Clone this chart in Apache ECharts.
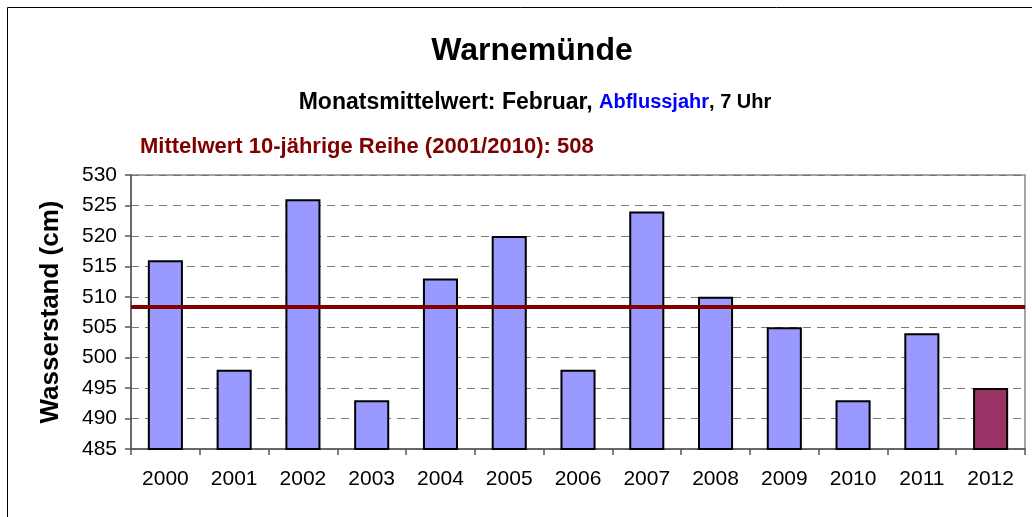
<!DOCTYPE html>
<html>
<head>
<meta charset="utf-8">
<script src="https://cdn.jsdelivr.net/npm/echarts@6/dist/echarts.min.js"></script>
<style>
  html, body { margin: 0; padding: 0; background: #fff; }
  #chart { width: 1032px; height: 517px; }
</style>
</head>
<body>
<div id="chart"></div>
<script>
// data
const years = ['2000', '2001', '2002', '2003', '2004', '2005', '2006', '2007', '2008', '2009', '2010', '2011', '2012'];
const levels = [516, 498, 526, 493, 513, 520, 498, 524, 510, 505, 493, 504, 495];
const meanValue = 508.3;
const currentYear = '2012';

const FONT = '"Liberation Sans", Arial, sans-serif';

const chart = echarts.init(document.getElementById('chart'));

const barData = levels.map(function (v, i) {
  return {
    value: v,
    itemStyle: { color: years[i] === currentYear ? '#993366' : '#9999ff' }
  };
});

const option = {
  animation: false,
  backgroundColor: '#ffffff',
  graphic: [
    {
      type: 'rect',
      shape: { x: 7.5, y: 7.5, width: 1100, height: 600 },
      style: { fill: 'none', stroke: '#000', lineWidth: 1 },
      silent: true
    },
    {
      type: 'rect',
      shape: { x: 131, y: 175, width: 894, height: 274 },
      style: { fill: 'none', stroke: '#888', lineWidth: 1.5 },
      silent: true,
      z: 0
    }
  ],
  title: [
    {
      text: 'Warnemünde',
      left: 527,
      top: 30,
      textAlign: 'center',
      textStyle: { fontFamily: FONT, fontSize: 32, fontWeight: 'bold', color: '#000' }
    },
    {
      text: '{a|Monatsmittelwert: Februar, }{b|Abflussjahr}{c|, 7 Uhr}',
      left: 530,
      top: 86,
      textAlign: 'center',
      textStyle: {
        rich: {
          a: { fontFamily: FONT, fontSize: 23, fontWeight: 'bold', color: '#000' },
          b: { fontFamily: FONT, fontSize: 20, fontWeight: 'bold', color: '#0000ff' },
          c: { fontFamily: FONT, fontSize: 20, fontWeight: 'bold', color: '#000' }
        }
      }
    },
    {
      text: 'Mittelwert 10-jährige Reihe (2001/2010): 508',
      left: 135,
      top: 131,
      textStyle: { fontFamily: FONT, fontSize: 22, fontWeight: 'bold', color: '#800000' }
    }
  ],
  grid: {
    left: 131,
    right: 7,
    top: 175,
    bottom: 68
  },
  xAxis: {
    type: 'category',
    data: years,
    axisLine: { lineStyle: { color: '#555', width: 1.5 } },
    axisTick: { show: true, length: 6, lineStyle: { color: '#555', width: 1.5 } },
    axisLabel: { fontFamily: FONT, fontSize: 21, color: '#000', margin: 20 }
  },
  yAxis: {
    type: 'value',
    min: 485,
    max: 530,
    interval: 5,
    name: 'Wasserstand (cm)',
    nameLocation: 'middle',
    nameGap: 67,
    nameTextStyle: { fontFamily: FONT, fontSize: 26, fontWeight: 'bold', color: '#000' },
    axisLine: { show: true, lineStyle: { color: '#555', width: 1.5 } },
    axisTick: { show: true, length: 6, lineStyle: { color: '#555', width: 1.5 } },
    axisLabel: { fontFamily: FONT, fontSize: 21, color: '#000', margin: 14 },
    splitLine: { show: true, lineStyle: { color: '#777', type: [8, 6], width: 1 } }
  },
  series: [
    {
      type: 'bar',
      data: barData,
      barWidth: '51%',
      itemStyle: { borderColor: '#000', borderWidth: 2 },
      markLine: {
        silent: true,
        symbol: 'none',
        label: { show: false },
        lineStyle: { color: '#800000', width: 4, type: 'solid' },
        data: [{ yAxis: meanValue }]
      }
    }
  ]
};

chart.setOption(option);
</script>
</body>
</html>
